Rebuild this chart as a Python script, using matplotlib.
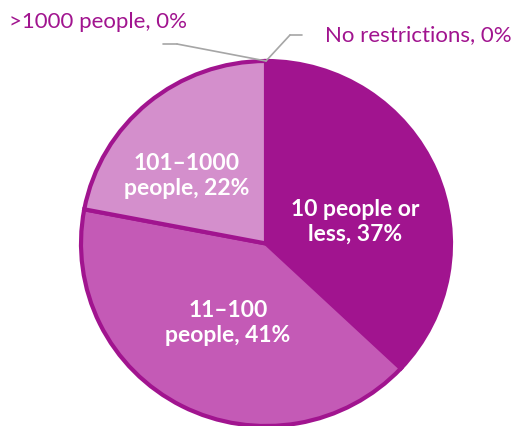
import numpy as np
import matplotlib.pyplot as plt

# share of respondents by gathering size limit
labels_in = ["10 people or\nless, 37%", "11\u2013100\npeople, 41%", "101\u20131000\npeople, 22%"]
labels_out = [">1000 people, 0%", "No restrictions, 0%"]
values = [37, 41, 22, 0, 0]
colors = ["#A1148F", "#C45AB6", "#D48FCC"]

W, H = 515, 427
fig = plt.figure(figsize=(W / 100, H / 100), dpi=100)
# pie box in pixels: centre (266, 244.5), radius ~185 x 182
ax = fig.add_axes([81 / W, 0.0, 370 / W, 365 / H])

nonzero = [v for v in values if v > 0]
wedges, _ = ax.pie(nonzero, colors=colors, startangle=90, counterclock=False,
                   wedgeprops=dict(edgecolor="#A1148F", linewidth=3, clip_on=False))
ax.set_aspect("auto")
ax.set_xlim(-1, 1)
ax.set_ylim(-1, 1)

# inner labels, placed by pixel position
inner_pos = [(355, 222), (228, 323), (187, 176)]
for txt, (px, py) in zip(labels_in, inner_pos):
    fig.text(px / W, 1 - py / H, txt, ha="center", va="center", color="white",
             fontsize=16.5, fontweight="bold", family="Lato", linespacing=1.2)

# zero-share slices sit at the end of the cumulative share (top of the pie)
total = sum(values)
cum = np.cumsum(values)
ang = np.deg2rad(90 - 360 * cum[3:] / total)
tip = [(np.cos(a), np.sin(a)) for a in ang]

grey = "#A6A6A6"
line = dict(arrowstyle="-", color=grey, lw=1.2, shrinkA=0, shrinkB=0)
# >1000 people
ax.annotate("", xy=tip[0], xycoords="data", xytext=(177, H - 45),
            textcoords="figure pixels", arrowprops=line)
ax.annotate("", xy=(177, H - 45), xycoords="figure pixels", xytext=(163, H - 45),
            textcoords="figure pixels", arrowprops=line)
# no restrictions
ax.annotate("", xy=tip[1], xycoords="data", xytext=(290, H - 36),
            textcoords="figure pixels", arrowprops=line)
ax.annotate("", xy=(290, H - 36), xycoords="figure pixels", xytext=(302, H - 36),
            textcoords="figure pixels", arrowprops=line)

fig.text(9 / W, 1 - 22 / H, labels_out[0], ha="left", va="center", color="#A1148F",
         fontsize=16, family="Lato")
fig.text(512 / W, 1 - 35 / H, labels_out[1], ha="right", va="center", color="#A1148F",
         fontsize=16, family="Lato")

fig.savefig("out.png", dpi=100)
